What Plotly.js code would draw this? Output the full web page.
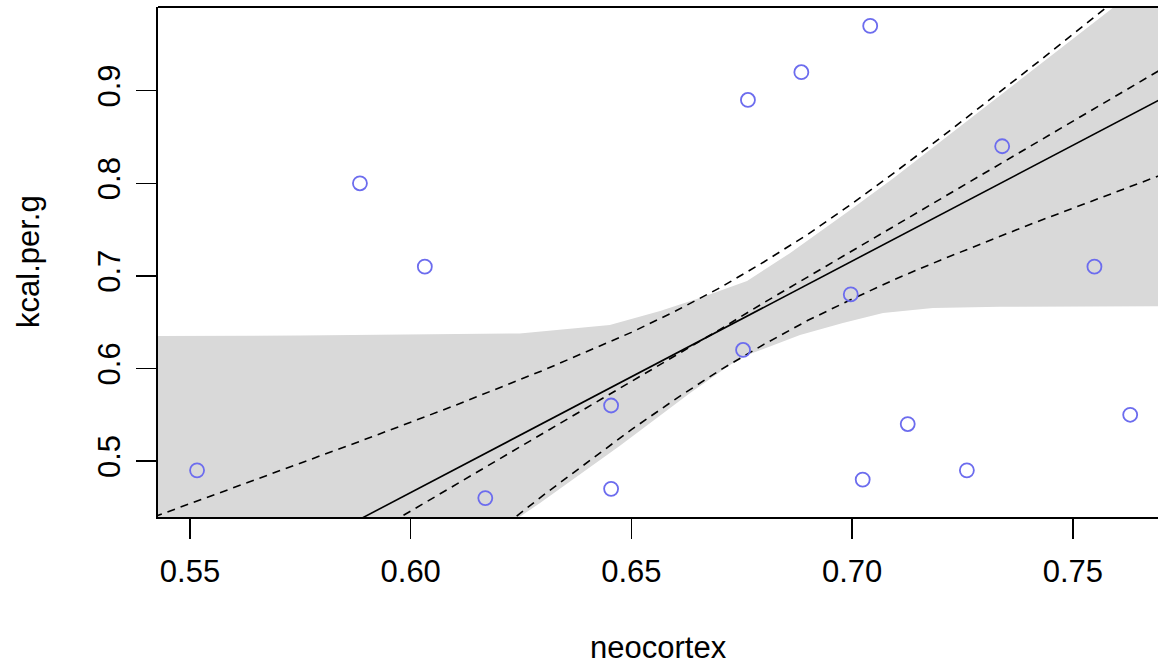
<!DOCTYPE html>
<html>
<head>
<meta charset="utf-8">
<script src="https://cdn.plot.ly/plotly-3.0.1.min.js"></script>
<style>
  html, body { margin: 0; padding: 0; background: #ffffff; }
  #chart { width: 1158px; height: 667px; }
</style>
</head>
<body>
<div id="chart"></div>
<script>
// Observed data (milk, complete cases)
const neocortex = [0.5516, 0.6454, 0.6454, 0.6764, 0.6885, 0.5885, 0.6169, 0.6032, 0.6997,
                   0.7041, 0.7340, 0.6753, 0.7126, 0.7260, 0.7024, 0.7630, 0.7549];
const kcal = [0.49, 0.47, 0.56, 0.89, 0.92, 0.80, 0.46, 0.71, 0.68,
              0.97, 0.84, 0.62, 0.54, 0.49, 0.48, 0.55, 0.71];

// Solid regression line (endpoints)
const lineX = [0.54, 0.78];
const lineY = [0.316, 0.916];

// Dashed mean line and its interval
const seqX   = [0.53, 0.55, 0.57, 0.59, 0.61, 0.63, 0.65, 0.66, 0.67, 0.68, 0.69, 0.70, 0.71, 0.72, 0.74, 0.76, 0.78];
const dashMean  = [0.250, 0.306, 0.362, 0.418, 0.474, 0.530, 0.586, 0.614, 0.642, 0.671, 0.699, 0.727, 0.755, 0.783, 0.839, 0.895, 0.951];
const dashUpper = [0.419, 0.454, 0.489, 0.524, 0.560, 0.598, 0.639, 0.662, 0.687, 0.715, 0.745, 0.778, 0.813, 0.849, 0.923, 0.999, 1.075];
const dashLower = [0.081, 0.159, 0.236, 0.313, 0.388, 0.463, 0.534, 0.567, 0.598, 0.626, 0.652, 0.675, 0.697, 0.717, 0.755, 0.791, 0.827];

// Shaded interval boundary
const shadeTopX = [0.53, 0.5749, 0.6247, 0.6451, 0.6565, 0.6655, 0.6762, 0.6859, 0.6995, 0.7092, 0.7591, 0.78];
const shadeTopY = [0.635, 0.6356, 0.6379, 0.6469, 0.662, 0.676, 0.6945, 0.7245, 0.771, 0.805, 0.9895, 1.068];
const shadeBotX = [0.78, 0.7693, 0.7335, 0.7183, 0.7070, 0.6979, 0.6882, 0.6762, 0.6723, 0.6633, 0.6474, 0.6293, 0.6247, 0.6124, 0.53];
const shadeBotY = [0.6674, 0.6673, 0.6666, 0.6652, 0.6598, 0.649, 0.6361, 0.6145, 0.6038, 0.5736, 0.5165, 0.4547, 0.44, 0.40, 0.40];

const xTicks = [0.55, 0.60, 0.65, 0.70, 0.75];
const xTickText = ["0.55", "0.60", "0.65", "0.70", "0.75"];
const yTicks = [0.5, 0.6, 0.7, 0.8, 0.9];
const yTickText = ["0.5", "0.6", "0.7", "0.8", "0.9"];

const FONT = "Liberation Sans, Arial, Helvetica, sans-serif";
const FS = 31;
const dashStyle = "8px,6px";

const traces = [
  {
    x: shadeTopX.concat(shadeBotX),
    y: shadeTopY.concat(shadeBotY),
    type: "scatter", mode: "lines", fill: "toself",
    fillcolor: "rgb(217,217,217)", line: { width: 0 }, hoverinfo: "skip"
  },
  { x: seqX, y: dashUpper, type: "scatter", mode: "lines",
    line: { color: "black", width: 1.6, dash: dashStyle } },
  { x: seqX, y: dashMean, type: "scatter", mode: "lines",
    line: { color: "black", width: 1.6, dash: dashStyle } },
  { x: seqX, y: dashLower, type: "scatter", mode: "lines",
    line: { color: "black", width: 1.6, dash: dashStyle } },
  { x: lineX, y: lineY, type: "scatter", mode: "lines",
    line: { color: "black", width: 1.6 } },
  { x: neocortex, y: kcal, type: "scatter", mode: "markers",
    marker: { symbol: "circle-open", size: 14, color: "rgb(108,108,238)",
              line: { width: 1.8, color: "rgb(108,108,238)" } } }
];

const layout = {
  width: 1158, height: 667,
  margin: { l: 158, r: 0, t: 7, b: 150 },
  paper_bgcolor: "white", plot_bgcolor: "white",
  showlegend: false,
  font: { family: FONT, size: FS, color: "black" },
  xaxis: {
    range: [0.54275, 0.7693],
    tickvals: xTicks, ticktext: xTickText,
    ticks: "outside", ticklen: 20, tickwidth: 1.5, tickcolor: "black",
    ticklabelstandoff: 6,
    showline: true, linecolor: "black", linewidth: 1.8,
    showgrid: false, zeroline: false,
    tickfont: { family: FONT, size: FS, color: "black" }
  },
  yaxis: {
    range: [0.4396, 0.9904],
    tickvals: yTicks, ticktext: yTickText,
    ticks: "outside", ticklen: 20, tickwidth: 1.5, tickcolor: "black",
    tickangle: -90, ticklabelstandoff: 4,
    showline: true, linecolor: "black", linewidth: 1.8,
    showgrid: false, zeroline: false,
    tickfont: { family: FONT, size: FS, color: "black" }
  },
  shapes: [
    { type: "line", xref: "paper", yref: "paper", x0: 0, x1: 1, y0: 1, y1: 1,
      line: { color: "black", width: 1.8 } }
  ],
  annotations: [
    { text: "neocortex", xref: "paper", yref: "paper", x: 0.5, y: 0,
      yshift: -130, showarrow: false, xanchor: "center", yanchor: "middle",
      font: { family: FONT, size: FS, color: "black" } },
    { text: "kcal.per.g", xref: "paper", yref: "paper", x: 0, y: 0.5,
      xshift: -130, showarrow: false, xanchor: "center", yanchor: "middle",
      textangle: -90, font: { family: FONT, size: FS, color: "black" } }
  ]
};

Plotly.newPlot("chart", traces, layout, { staticPlot: true, displayModeBar: false });
</script>
</body>
</html>
